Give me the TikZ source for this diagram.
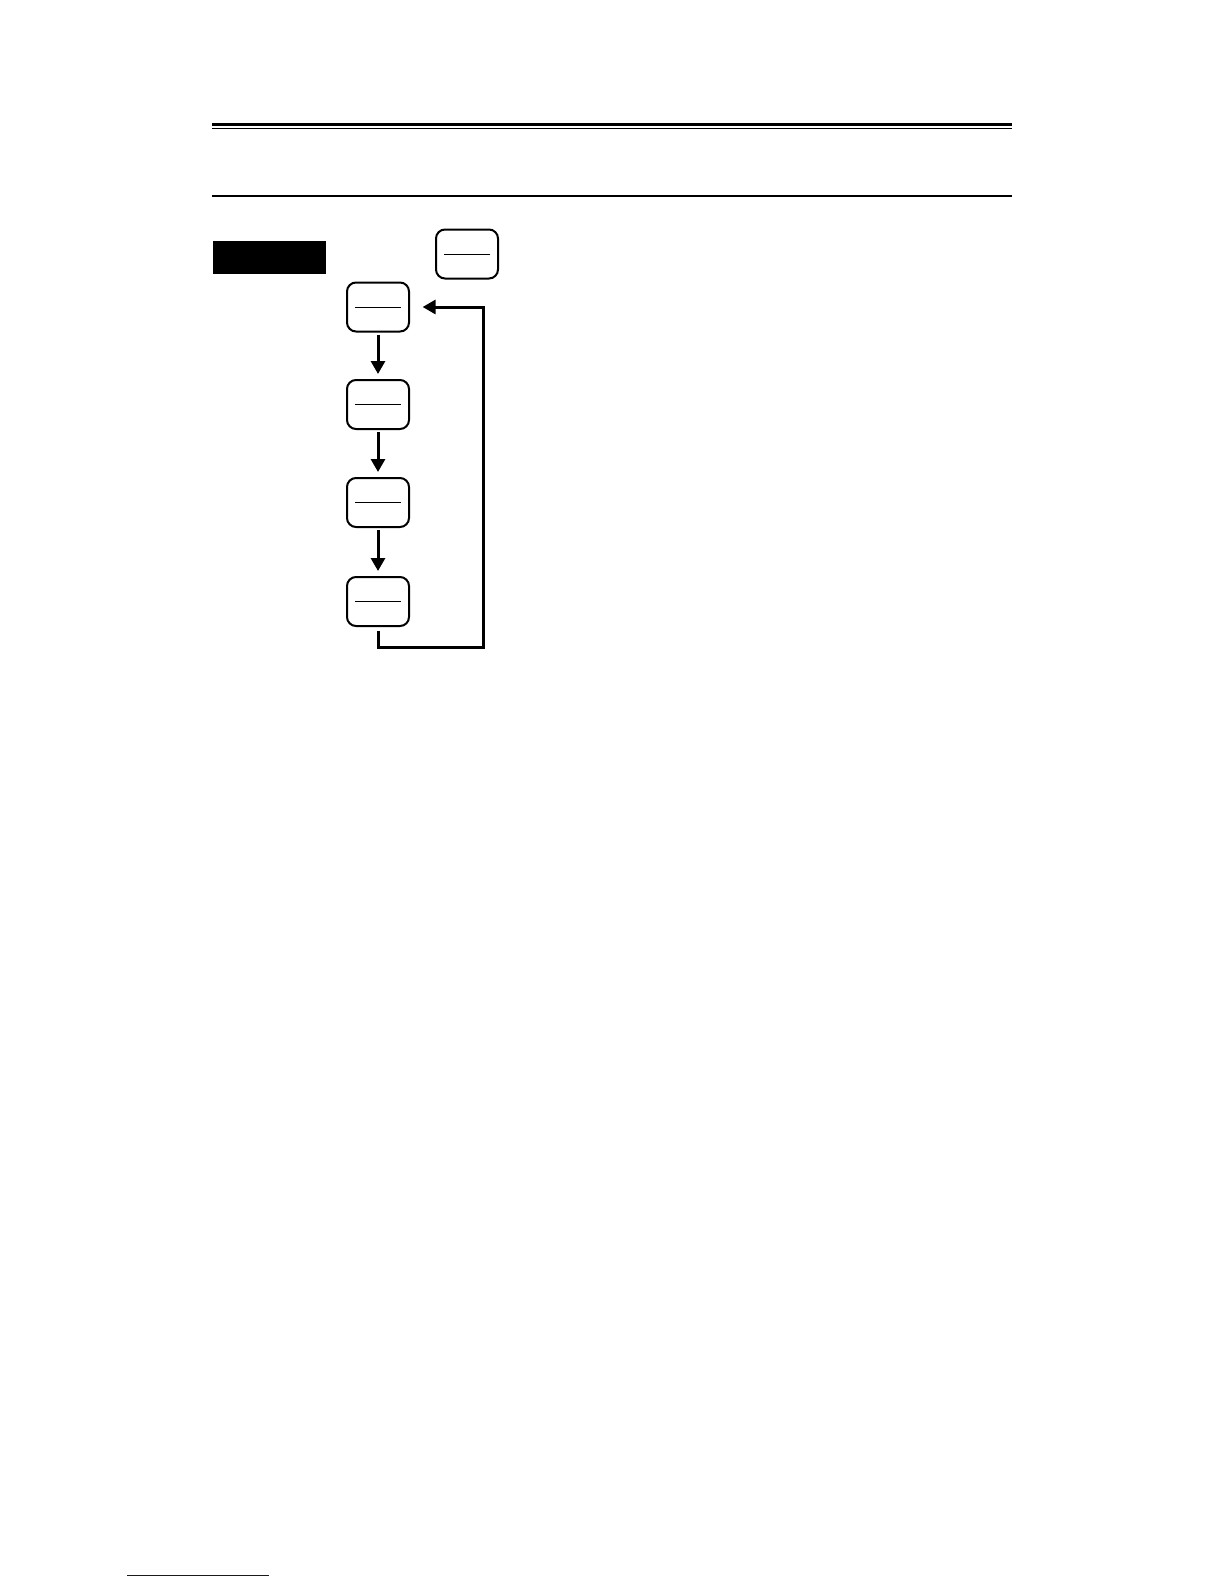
\documentclass[tikz,border=0pt]{standalone}
\usetikzlibrary{arrows.meta,positioning}
\definecolor{linkblue}{RGB}{10,10,150}
\begin{document}
\begin{tikzpicture}[x=0.5pt,y=-0.5pt,
        key/.style={draw,line width=1pt,rounded corners=4.5pt,minimum width=31pt,minimum height=24.5pt,inner sep=0pt,
            path picture={\draw[line width=0.5pt] ([xshift=-11.3pt]path picture bounding box.center) -- ([xshift=11.3pt]path picture bounding box.center);}},
        flow/.style={line width=1.5pt,-{Triangle[length=6.5pt,width=7pt]}}]
    \useasboundingbox (0,0) rectangle (1224,1584);
    % header rules
    \draw[line width=1.65pt] (212,124.3) -- (1012,124.3);
    \draw[line width=0.5pt] (212,128.5) -- (1012,128.5);
    \draw[line width=1.15pt] (212,195.8) -- (1012,195.8);
    % black tab
    \fill (213,241) rectangle (326,274);
    % keys
    \node[key] (keytop) at (467,254) {};
    \node[key] (key1) at (378,307) {};
    \node[key] (key2) at (378,404.5) {};
    \node[key] (key3) at (378,502.5) {};
    \node[key] (key4) at (378,601.5) {};
    % arrows
    \draw[flow,shorten <=1pt,shorten >=2.5pt] (key1) -- (key2);
    \draw[flow,shorten <=1pt,shorten >=2.5pt] (key2) -- (key3);
    \draw[flow,shorten <=1pt,shorten >=2.5pt] (key3) -- (key4);
    \coordinate (loop) at (483,647);
    \draw[flow] ([yshift=-2pt]key4.south) |- (loop) |- ([xshift=6.3pt]key1.east);
    % footer link
    \draw[linkblue,line width=0.6pt] (127,1575.2) -- (269,1575.2);
\end{tikzpicture}
\end{document}
